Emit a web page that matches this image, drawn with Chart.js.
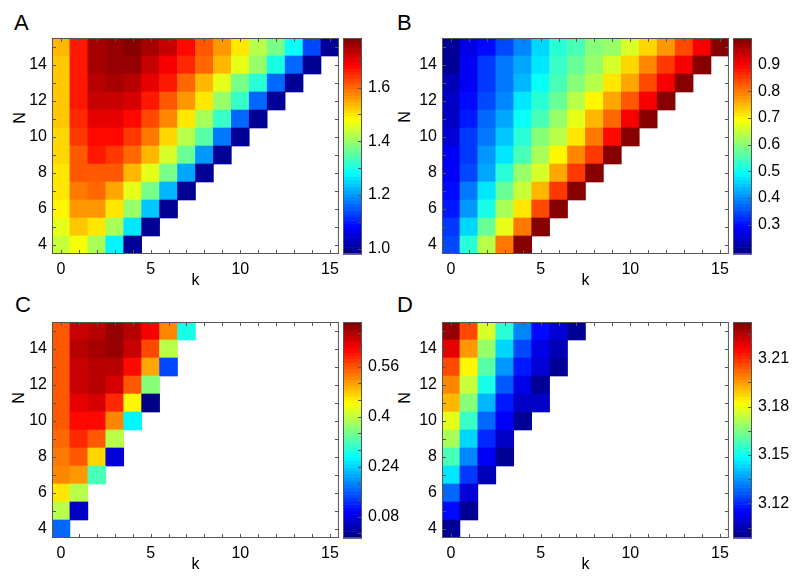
<!DOCTYPE html>
<html>
<head>
<meta charset="utf-8">
<script src="https://cdn.jsdelivr.net/npm/chart.js@4.4.1/dist/chart.umd.min.js"></script>
<style>
  body { margin: 0; background: #fff; }
  #wrap { position: relative; width: 800px; height: 585px; overflow: hidden; font-family: Arial, "Liberation Sans", sans-serif; color: #000; }
  canvas { position: absolute; }
  .letter { position: absolute; font-size: 22px; line-height: 22px; }
  .ylab { position: absolute; width: 20px; height: 20px; line-height: 20px; text-align: center; font-size: 16px; transform: rotate(-90deg); }
</style>
</head>
<body>
<div id="wrap">
  <div class="letter" style="left:14px;top:12px">A</div>
  <div class="letter" style="left:397px;top:12px">B</div>
  <div class="letter" style="left:15px;top:294px">C</div>
  <div class="letter" style="left:397px;top:294px">D</div>
  <div class="ylab" style="left:10px;top:108px">N</div>
  <div class="ylab" style="left:395px;top:107px">N</div>
  <div class="ylab" style="left:9px;top:388px">N</div>
  <div class="ylab" style="left:395px;top:388px">N</div>

  <canvas id="heatA" width="345" height="290" style="left:0;top:0"></canvas>
  <canvas id="cbA" width="62" height="290" style="left:343px;top:0"></canvas>
  <canvas id="heatB" width="345" height="290" style="left:390px;top:0"></canvas>
  <canvas id="cbB" width="62" height="290" style="left:733px;top:0"></canvas>
  <canvas id="heatC" width="345" height="290" style="left:0;top:284px"></canvas>
  <canvas id="cbC" width="62" height="290" style="left:343px;top:284px"></canvas>
  <canvas id="heatD" width="345" height="290" style="left:390px;top:284px"></canvas>
  <canvas id="cbD" width="62" height="290" style="left:733px;top:284px"></canvas>
</div>
<script>
// axes
const kValues = [0, 1, 2, 3, 4, 5, 6, 7, 8, 9, 10, 11, 12, 13, 14, 15];
const kTickLabels = ['0', '', '', '', '', '5', '', '', '', '', '10', '', '', '', '', '15'];
const nValues = [4, 5, 6, 7, 8, 9, 10, 11, 12, 13, 14, 15];
const nTickLabels = ['4', '', '6', '', '8', '', '10', '', '12', '', '14', ''];

// panel A, one row per N (k = 0..N)
const valuesA = [
  [1.44, 1.48, 1.41, 1.28, 1.00],
  [1.46, 1.53, 1.50, 1.41, 1.26, 1.00],
  [1.49, 1.56, 1.56, 1.50, 1.40, 1.24, 1.00],
  [1.50, 1.59, 1.60, 1.55, 1.47, 1.38, 1.22, 1.00],
  [1.50, 1.61, 1.62, 1.61, 1.54, 1.46, 1.37, 1.21, 1.00],
  [1.51, 1.62, 1.66, 1.64, 1.60, 1.54, 1.45, 1.36, 1.20, 1.00],
  [1.52, 1.64, 1.68, 1.68, 1.64, 1.59, 1.52, 1.43, 1.35, 1.18, 1.00],
  [1.53, 1.65, 1.70, 1.70, 1.68, 1.63, 1.58, 1.50, 1.42, 1.33, 1.16, 1.00],
  [1.53, 1.66, 1.73, 1.73, 1.71, 1.67, 1.62, 1.57, 1.50, 1.40, 1.33, 1.16, 1.00],
  [1.53, 1.66, 1.74, 1.75, 1.74, 1.70, 1.66, 1.60, 1.54, 1.46, 1.38, 1.31, 1.16, 1.00],
  [1.53, 1.67, 1.75, 1.76, 1.76, 1.73, 1.69, 1.65, 1.60, 1.54, 1.46, 1.40, 1.30, 1.16, 1.00],
  [1.54, 1.67, 1.75, 1.77, 1.78, 1.75, 1.73, 1.68, 1.62, 1.57, 1.50, 1.43, 1.38, 1.29, 1.14, 1.00]
];

// panel B
const valuesB = [
  [0.35, 0.53, 0.64, 0.80, 1.00],
  [0.33, 0.46, 0.57, 0.68, 0.81, 1.00],
  [0.31, 0.41, 0.51, 0.63, 0.72, 0.84, 1.00],
  [0.30, 0.38, 0.47, 0.58, 0.65, 0.75, 0.85, 1.00],
  [0.29, 0.35, 0.43, 0.53, 0.61, 0.67, 0.77, 0.86, 1.00],
  [0.28, 0.34, 0.41, 0.48, 0.55, 0.63, 0.70, 0.79, 0.86, 1.00],
  [0.26, 0.33, 0.38, 0.45, 0.53, 0.60, 0.64, 0.72, 0.80, 0.89, 1.00],
  [0.25, 0.31, 0.37, 0.43, 0.50, 0.55, 0.62, 0.68, 0.75, 0.82, 0.90, 1.00],
  [0.25, 0.30, 0.35, 0.40, 0.47, 0.53, 0.58, 0.64, 0.70, 0.76, 0.83, 0.90, 1.00],
  [0.23, 0.29, 0.34, 0.39, 0.44, 0.50, 0.55, 0.60, 0.64, 0.71, 0.77, 0.84, 0.90, 1.00],
  [0.21, 0.28, 0.33, 0.38, 0.43, 0.48, 0.54, 0.58, 0.62, 0.67, 0.73, 0.79, 0.85, 0.90, 1.00],
  [0.21, 0.27, 0.30, 0.35, 0.40, 0.46, 0.52, 0.55, 0.60, 0.62, 0.66, 0.73, 0.78, 0.84, 0.90, 1.00]
];

// panel C
const valuesC = [
  [0.17],
  [0.39, 0.06],
  [0.46, 0.39],
  [0.52, 0.51, 0.32],
  [0.54, 0.56, 0.47, 0.07],
  [0.55, 0.59, 0.56, 0.39],
  [0.56, 0.61, 0.61, 0.53, 0.27],
  [0.56, 0.63, 0.64, 0.59, 0.45, 0.02],
  [0.56, 0.65, 0.66, 0.64, 0.56, 0.36],
  [0.56, 0.65, 0.67, 0.67, 0.61, 0.50, 0.15],
  [0.56, 0.66, 0.68, 0.69, 0.65, 0.57, 0.40],
  [0.56, 0.65, 0.67, 0.69, 0.67, 0.62, 0.52, 0.29]
];

// panel D
const valuesD = [
  [3.102],
  [3.117, 3.102],
  [3.129, 3.111],
  [3.145, 3.123, 3.105],
  [3.159, 3.132, 3.115, 3.102],
  [3.170, 3.144, 3.121, 3.107],
  [3.179, 3.157, 3.129, 3.115, 3.101],
  [3.191, 3.166, 3.140, 3.119, 3.108, 3.108],
  [3.199, 3.175, 3.152, 3.127, 3.113, 3.102],
  [3.207, 3.184, 3.160, 3.136, 3.119, 3.109, 3.102],
  [3.219, 3.196, 3.168, 3.144, 3.125, 3.113, 3.105],
  [3.230, 3.206, 3.176, 3.155, 3.132, 3.117, 3.109, 3.101]
];

// colour ranges and colorbar ticks
const rangeA = [0.98, 1.785];
const rangeB = [0.19, 1.0];
const rangeC = [0.012, 0.703];
const rangeD = [3.0985, 3.2325];
const cbTicksA = [1.0, 1.1, 1.2, 1.3, 1.4, 1.5, 1.6, 1.7];
const cbLabelsA = ['1.0', '', '1.2', '', '1.4', '', '1.6', ''];
const cbTicksB = [0.3, 0.4, 0.5, 0.6, 0.7, 0.8, 0.9];
const cbLabelsB = ['0.3', '0.4', '0.5', '0.6', '0.7', '0.8', '0.9'];
const cbTicksC = [0.0267, 0.08, 0.1333, 0.1867, 0.24, 0.2933, 0.3467, 0.4, 0.4533, 0.5067, 0.56, 0.6133, 0.6667];
const cbLabelsC = ['', '0.08', '', '', '0.24', '', '', '0.4', '', '', '0.56', '', ''];
const cbTicksD = [3.105, 3.12, 3.135, 3.15, 3.165, 3.18, 3.195, 3.21, 3.225];
const cbLabelsD = ['', '3.12', '', '3.15', '', '3.18', '', '3.21', ''];

const LEVELS = 64;

Chart.defaults.font.family = 'Arial, "Liberation Sans", sans-serif';
Chart.defaults.font.size = 16;
Chart.defaults.color = '#000';

// matlab style jet colormap, 64 steps
function jet(t) {
  const i = Math.min(LEVELS - 1, Math.max(0, Math.floor(t * LEVELS)));
  const x = (i + 0.5) / LEVELS;
  const c = v => Math.round(255 * Math.min(1, Math.max(0, v)));
  const r = c(1.5 - Math.abs(4 * x - 3));
  const g = c(1.5 - Math.abs(4 * x - 2));
  const b = c(1.5 - Math.abs(4 * x - 1));
  return `rgb(${r},${g},${b})`;
}

// frame, inward ticks and (for colorbars) the colour strip
const panelFrame = {
  id: 'panelFrame',
  afterDraw(chart, args, opts) {
    const { ctx, chartArea: a } = chart;
    const yScale = chart.scales.y;
    const len = 4;
    ctx.save();
    if (opts.strip) {
      const span = yScale.max - yScale.min;
      for (let i = 0; i < LEVELS; i++) {
        const top = yScale.getPixelForValue(yScale.min + span * (i + 1) / LEVELS);
        const bot = yScale.getPixelForValue(yScale.min + span * i / LEVELS);
        ctx.fillStyle = jet((i + 0.5) / LEVELS);
        ctx.fillRect(a.left, top, a.width, bot - top + 0.6);
      }
    }
    ctx.strokeStyle = '#555';
    ctx.lineWidth = 1;
    ctx.beginPath();
    if (opts.xTicks) {
      const xScale = chart.scales.x;
      xScale.ticks.forEach(t => {
        const p = Math.round(xScale.getPixelForValue(t.value)) + 0.5;
        ctx.moveTo(p, a.bottom); ctx.lineTo(p, a.bottom - len);
        ctx.moveTo(p, a.top); ctx.lineTo(p, a.top + len);
      });
    }
    yScale.ticks.forEach(t => {
      const p = Math.round(yScale.getPixelForValue(t.value)) + 0.5;
      if (opts.leftTicks) { ctx.moveTo(a.left, p); ctx.lineTo(a.left + len, p); }
      ctx.moveTo(a.right, p); ctx.lineTo(a.right - len, p);
    });
    ctx.stroke();
    ctx.strokeRect(a.left + 0.5, a.top + 0.5, a.width - 1, a.height - 1);
    ctx.restore();
  }
};

function heatDatasets(rows, range) {
  const [lo, hi] = range;
  return rows.map((row, i) => {
    const n = nValues[i];
    return {
      data: row.map((v, k) => ({ x: kValues[k], y: [n - 0.5, n + 0.5] })),
      backgroundColor: row.map(v => jet((v - lo) / (hi - lo))),
      borderWidth: 0,
      grouped: false,
      barPercentage: 1,
      categoryPercentage: 1
    };
  });
}

function drawHeatmap(canvasId, rows, range) {
  return new Chart(document.getElementById(canvasId), {
    type: 'bar',
    data: { datasets: heatDatasets(rows, range) },
    options: {
      responsive: false,
      animation: false,
      events: [],
      layout: { padding: { top: 38, right: 5, left: 0, bottom: 0 } },
      plugins: {
        legend: { display: false },
        tooltip: { enabled: false },
        panelFrame: { xTicks: true, leftTicks: true }
      },
      scales: {
        x: {
          type: 'linear',
          min: kValues[0] - 0.5,
          max: kValues[kValues.length - 1] + 0.5,
          offset: false,
          grid: { display: false, drawTicks: false },
          border: { display: false },
          afterBuildTicks: s => { s.ticks = kValues.map(v => ({ value: v })); },
          afterFit: s => { s.height = 36; },
          ticks: { autoSkip: false, maxRotation: 0, minRotation: 0, padding: 6, callback: (v, i) => kTickLabels[i] },
          title: { display: true, text: 'k', padding: { top: 0, bottom: 0 } }
        },
        y: {
          type: 'linear',
          min: nValues[0] - 0.5,
          max: nValues[nValues.length - 1] + 0.5,
          grid: { display: false, drawTicks: false },
          border: { display: false },
          afterBuildTicks: s => { s.ticks = nValues.map(v => ({ value: v })); },
          afterFit: s => { s.width = 52; },
          ticks: { autoSkip: false, padding: 5, callback: (v, i) => nTickLabels[i] }
        }
      }
    },
    plugins: [panelFrame]
  });
}

function drawColorbar(canvasId, range, ticks, labels) {
  const canvas = document.getElementById(canvasId);
  return new Chart(canvas, {
    type: 'bar',
    data: { labels: [], datasets: [] },
    options: {
      responsive: false,
      animation: false,
      events: [],
      layout: { padding: { top: 38, bottom: 36, left: 0, right: 0 } },
      plugins: {
        legend: { display: false },
        tooltip: { enabled: false },
        panelFrame: { strip: true }
      },
      scales: {
        x: { display: false },
        y: {
          position: 'right',
          min: range[0],
          max: range[1],
          grid: { display: false, drawTicks: false },
          border: { display: false },
          afterBuildTicks: s => { s.ticks = ticks.map(v => ({ value: v })); },
          afterFit: s => { s.width = canvas.width - 19; },
          ticks: { autoSkip: false, padding: 6, callback: (v, i) => labels[i] }
        }
      }
    },
    plugins: [panelFrame]
  });
}

drawHeatmap('heatA', valuesA, rangeA);
drawColorbar('cbA', rangeA, cbTicksA, cbLabelsA);
drawHeatmap('heatB', valuesB, rangeB);
drawColorbar('cbB', rangeB, cbTicksB, cbLabelsB);
drawHeatmap('heatC', valuesC, rangeC);
drawColorbar('cbC', rangeC, cbTicksC, cbLabelsC);
drawHeatmap('heatD', valuesD, rangeD);
drawColorbar('cbD', rangeD, cbTicksD, cbLabelsD);
</script>
</body>
</html>
